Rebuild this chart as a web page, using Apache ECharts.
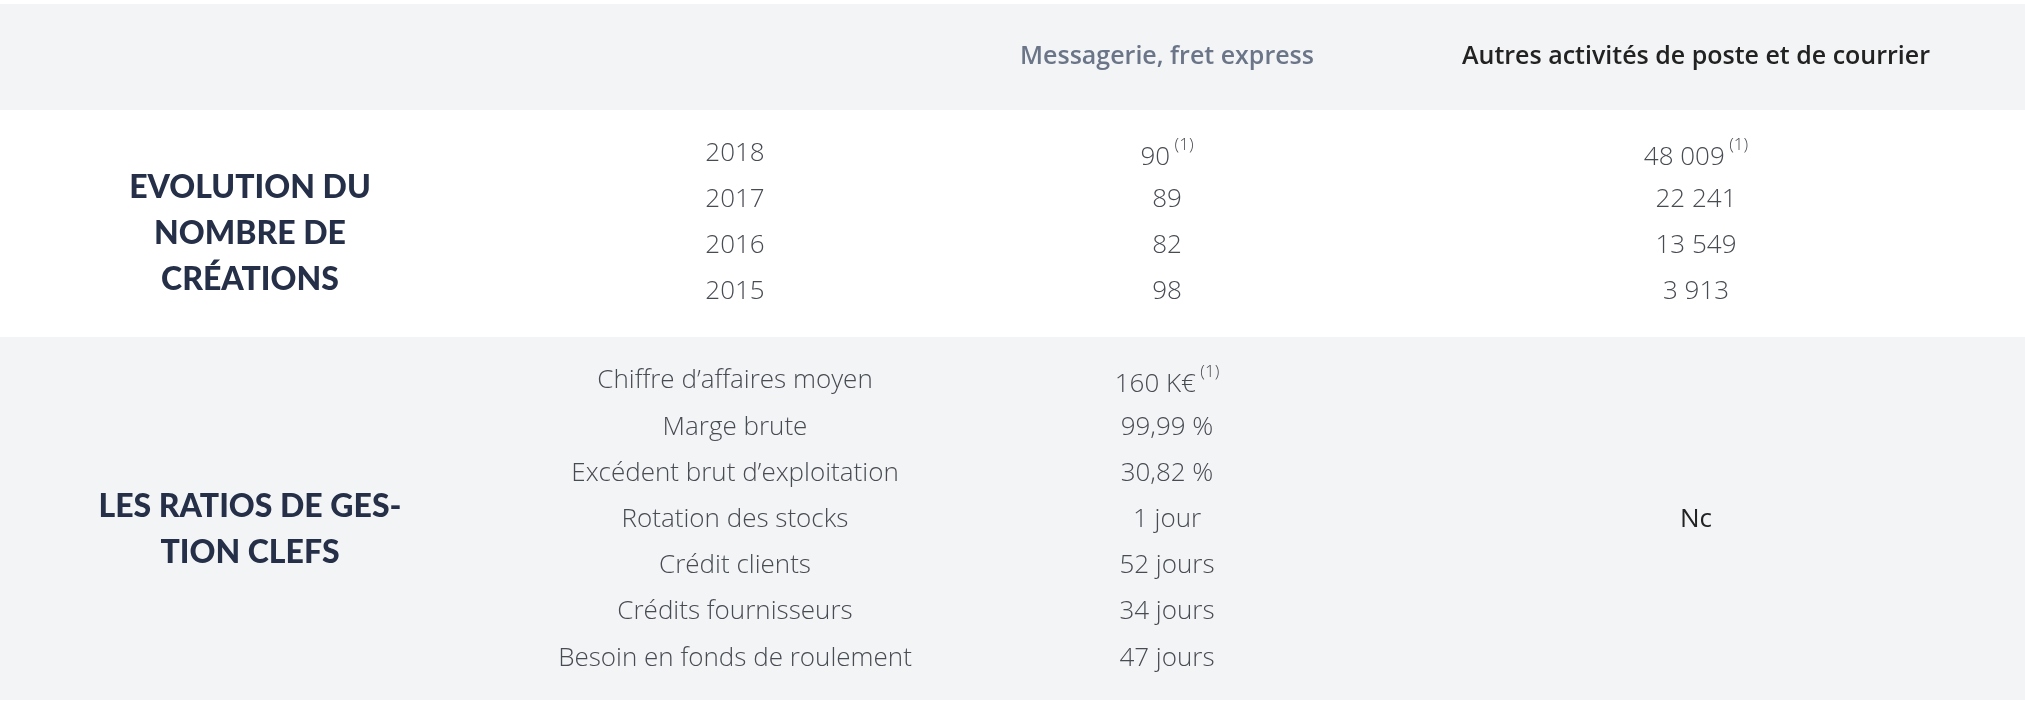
<!DOCTYPE html>
<html>
<head>
<meta charset="utf-8">
<script src="https://cdn.jsdelivr.net/npm/echarts@6/dist/echarts.min.js"></script>
<style>
html, body { margin: 0; padding: 0; background: #fff; }
#chart { width: 2025px; height: 709px; }
</style>
</head>
<body>
<div id="chart"></div>
<script>
(function() {
const columns = ['Messagerie, fret express', 'Autres activités de poste et de courrier'];
const years = ['2018', '2017', '2016', '2015'];
const messagerie = ['90', '89', '82', '98'];
const autres = ['48 009', '22 241', '13 549', '3 913'];
const footnoted = [true, false, false, false];
const ratioLabels = ['Chiffre d’affaires moyen', 'Marge brute', 'Excédent brut d’exploitation',
  'Rotation des stocks', 'Crédit clients', 'Crédits fournisseurs', 'Besoin en fonds de roulement'];
const ratioValues = ['160 K€', '99,99 %', '30,82 %', '1 jour', '52 jours', '34 jours', '47 jours'];
const ratioFootnoted = [true, false, false, false, false, false, false];
const sections = [['EVOLUTION DU', 'NOMBRE DE', 'CRÉATIONS'], ['LES RATIOS DE GES-', 'TION CLEFS']];

const font = '"Open Sans", sans-serif';
const bodyColor = '#474b52';
const headColor = '#253048';

function cell(x, y, str, sup) {
  return {
    type: 'text', x: x, y: y,
    style: {
      text: sup ? '{v|' + str + '}{s| (1)}' : str,
      align: 'center', verticalAlign: 'middle',
      font: '300 26px ' + font, fill: bodyColor,
      rich: {
        v: { fontFamily: font, fontSize: 26, fontWeight: 300, color: bodyColor, lineHeight: 34, verticalAlign: 'bottom' },
        s: { fontFamily: font, fontSize: 17, fontWeight: 300, color: bodyColor, lineHeight: 34, verticalAlign: 'top', padding: [0, 0, 14, 0] }
      }
    }
  };
}

const els = [
  { type: 'rect', shape: { x: 0, y: 4, width: 2025, height: 106 }, style: { fill: '#f3f4f6' } },
  { type: 'rect', shape: { x: 0, y: 337, width: 2025, height: 363 }, style: { fill: '#f3f4f6' } }
];

els.push({ type: 'text', x: 1167, y: 57, style: { text: columns[0], align: 'center', verticalAlign: 'middle', font: '600 25px ' + font, fill: '#6b7588' } });
els.push({ type: 'text', x: 1696, y: 57, style: { text: columns[1], align: 'center', verticalAlign: 'middle', font: '600 25px ' + font, fill: '#222' } });

const yearY = [154, 200, 246, 292];
years.forEach((yr, i) => {
  els.push(cell(735, yearY[i], yr, false));
  els.push(cell(1167, yearY[i], messagerie[i], footnoted[i]));
  els.push(cell(1696, yearY[i], autres[i], footnoted[i]));
});

const ratioY0 = 381, ratioStep = 46.2;
ratioLabels.forEach((lab, i) => {
  const y = ratioY0 + i * ratioStep;
  els.push(cell(735, y, lab, false));
  els.push(cell(1167, y, ratioValues[i], ratioFootnoted[i]));
});
els.push(cell(1696, 520, 'Nc', false));
els[els.length - 1].style.font = '400 26px ' + font;
els[els.length - 1].style.fill = '#222';

const secCenters = [234, 530];
sections.forEach((lines, k) => {
  const lh = 46;
  const y0 = secCenters[k] - (lines.length - 1) * lh / 2;
  lines.forEach((t, j) => {
    els.push({ type: 'text', x: 250, y: y0 + j * lh, style: { text: t, align: 'center', verticalAlign: 'middle', font: '900 32px Lato, sans-serif', fill: headColor } });
  });
});

const chart = echarts.init(document.getElementById('chart'));
chart.setOption({ backgroundColor: '#fff', graphic: { elements: els } });
window.addEventListener('resize', () => chart.resize());
})();
</script>
</body>
</html>
